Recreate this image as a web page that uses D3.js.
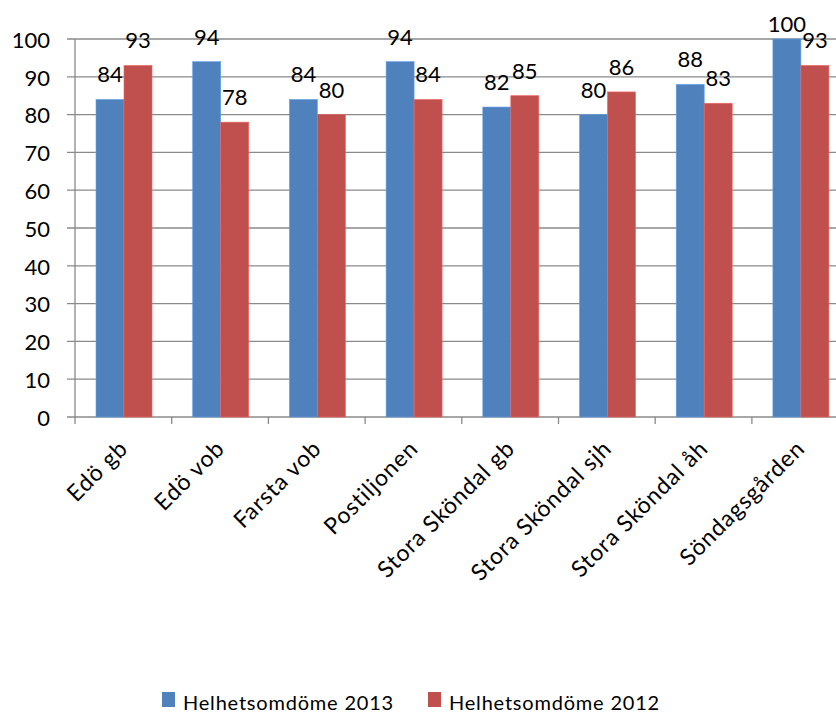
<!DOCTYPE html>
<html>
<head>
<meta charset="utf-8">
<script src="https://cdn.jsdelivr.net/npm/d3@7"></script>
<style>
  body { margin: 0; background: #fff; }
  svg { display: block; font-family: Lato, "Open Sans", sans-serif; }
</style>
</head>
<body>
<div id="chart"></div>
<script>
// Chart data
var categories = ["Edö gb", "Edö vob", "Farsta vob", "Postiljonen", "Stora Sköndal gb", "Stora Sköndal sjh", "Stora Sköndal åh", "Söndagsgården"];
var seriesNames = ["Helhetsomdöme 2013", "Helhetsomdöme 2012"];
var values2013 = [84, 94, 84, 94, 82, 80, 88, 100];
var values2012 = [93, 78, 80, 84, 85, 86, 83, 93];
var yTicks = [0, 10, 20, 30, 40, 50, 60, 70, 80, 90, 100];
var colors = ["#4F81BD", "#C0504D"];

var W = 836, H = 713;
var svg = d3.select("#chart").append("svg")
    .attr("width", W)
    .attr("height", H);

// plot area runs past the right edge, like the original
var x = d3.scaleBand()
    .domain(categories)
    .range([75, 848.6]);

var x1 = d3.scaleBand()
    .domain([0, 1])
    .range([21, 21 + 56]);

var y = d3.scaleLinear()
    .domain([0, 100])
    .range([417, 39]);

// Gridlines
svg.append("g")
    .selectAll("line")
    .data(yTicks)
    .enter()
    .append("line")
    .attr("x1", 67)
    .attr("x2", W)
    .attr("y1", function(d) { return y(d); })
    .attr("y2", function(d) { return y(d); })
    .attr("stroke", "#8a8a8a")
    .attr("stroke-width", 1.3);

// Y axis line
svg.append("line")
    .attr("x1", 75).attr("x2", 75)
    .attr("y1", y(100)).attr("y2", y(0))
    .attr("stroke", "#8a8a8a")
    .attr("stroke-width", 1.3);

// Y tick labels
svg.append("g")
    .selectAll("text")
    .data(yTicks)
    .enter()
    .append("text")
    .attr("x", 50)
    .attr("y", function(d) { return y(d); })
    .attr("dy", "0.4em")
    .attr("text-anchor", "end")
    .style("font-size", "22px")
    .attr("fill", "#000")
    .text(function(d) { return d; });

// Category tick marks
svg.append("g")
    .selectAll("line")
    .data(d3.range(categories.length + 1))
    .enter()
    .append("line")
    .attr("x1", function(i) { return 75 + i * x.step(); })
    .attr("x2", function(i) { return 75 + i * x.step(); })
    .attr("y1", y(0))
    .attr("y2", y(0) + 7)
    .attr("stroke", "#8a8a8a")
    .attr("stroke-width", 1.3);

// Bars
var series = [values2013, values2012];
series.forEach(function(vals, s) {
    var g = svg.append("g");
    g.selectAll("rect")
        .data(vals)
        .enter()
        .append("rect")
        .attr("x", function(d, i) { return x(categories[i]) + x1(s); })
        .attr("y", function(d) { return y(d); })
        .attr("width", x1.bandwidth())
        .attr("height", function(d) { return y(0) - y(d); })
        .attr("fill", colors[s])
        .attr("stroke", d3.color(colors[s]).brighter(0.6))
        .attr("stroke-width", 0.6);

    // value labels (kept inside the chart area at the top)
    g.selectAll("text")
        .data(vals)
        .enter()
        .append("text")
        .attr("x", function(d, i) { return x(categories[i]) + x1(s) + x1.bandwidth() / 2; })
        .attr("y", function(d) { return Math.max(y(d) - 17, 32); })
        .attr("text-anchor", "middle")
        .style("font-size", "22px")
        .attr("fill", "#000")
        .text(function(d) { return d; });
});

// Rotated category labels
svg.append("g")
    .selectAll("text")
    .data(categories)
    .enter()
    .append("text")
    .attr("transform", function(d) {
        return "translate(" + (x(d) + x.bandwidth() / 2 + 6) + "," + (y(0) + 33) + ")rotate(-45)";
    })
    .attr("text-anchor", "end")
    .style("font-size", "23px")
    .style("letter-spacing", "0.9px")
    .attr("fill", "#000")
    .text(function(d) { return d; });

// Legend
var legendX = [162, 428];
var legend = svg.append("g")
    .selectAll("g")
    .data(seriesNames)
    .enter()
    .append("g")
    .attr("transform", function(d, i) { return "translate(" + legendX[i] + ",692)"; });
legend.append("rect")
    .attr("width", 13)
    .attr("height", 15)
    .attr("fill", function(d, i) { return colors[i]; });
legend.append("text")
    .attr("x", 21)
    .attr("y", 18)
    .style("font-size", "20px")
    .style("letter-spacing", "0.8px")
    .attr("fill", "#000")
    .text(function(d) { return d; });
</script>
</body>
</html>
